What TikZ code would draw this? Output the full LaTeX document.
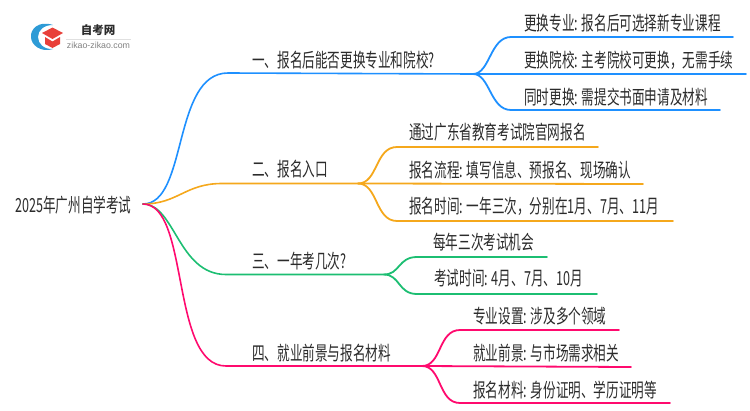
\documentclass[tikz,border=0pt]{standalone}
\usepackage{fontspec}
\usepackage{xcolor}
\setmainfont{Liberation Sans}
\newfontfamily\cjk[FakeStretch=0.65]{Noto Sans CJK SC}
\newfontfamily\cjklogo{Noto Sans CJK SC}

\definecolor{bluebr}{HTML}{1E90FF}
\definecolor{orangebr}{HTML}{F5A81C}
\definecolor{greenbr}{HTML}{1CBE72}
\definecolor{pinkbr}{HTML}{FF0A6E}
\definecolor{inktext}{HTML}{2B2B2B}
\definecolor{logored}{HTML}{E8403A}
\definecolor{logoblue}{HTML}{2E9BD6}

\tikzset{
label/.style={right, inner sep=0pt, text=inktext, font=\cjk\fontsize{19.4}{20}\selectfont},
trunk/.style={line width=1.6pt, line cap=round},
twig/.style={line width=1.8pt, line cap=round}
}

\begin{document}
\begin{tikzpicture}[x=1pt,y=-1pt]
\useasboundingbox (0,0) rectangle (750,410);

%logo
\fill[logoblue] (53,25) .. controls (38,20) and (30,30) .. (31,37) .. controls (31,45) and (41,53) .. (53,49) .. controls (44,49.5) and (38,44) .. (38,37) .. controls (38,30) and (44,25) .. (53,25) -- cycle;
\fill[logored] (52.5,27.5)--(63,33)--(52.5,39)--(42,33)--cycle;
\fill[logored] (45,37)--(52.5,41.5)--(60,37)--(60,44)--(52.5,48)--(45,44)--cycle;
\node[inner sep=0pt, text=inktext, font=\cjklogo\bfseries\fontsize{11.5}{12}\selectfont] (logoname) at (98,30.5) {自考网};
\draw[black!12, line width=0.5pt] (66,39)--(131,39);
\node[inner sep=0pt, text=gray, font=\fontsize{8.8}{9}\selectfont] (logourl) at (98.5,45) {zikao-zikao.com};

%root
\node[label] (root) at (15,205) {2025年广州自学考试};
\coordinate (hub) at (143,204);

%branch hubs
\coordinate (hubA) at (473,74);
\coordinate (hubB) at (358,183.5);
\coordinate (hubC) at (384,274.5);
\coordinate (hubD) at (422,366);

%branch labels
\node[label] (secA) at (252,60) {一、报名后能否更换专业和院校?};
\node[label] (secB) at (252,169) {二、报名入口};
\node[label] (secC) at (252,261) {三、一年考几次?};
\node[label] (secD) at (252,353) {四、就业前景与报名材料};

%leaf labels
\node[label] (leafAa) at (524,23) {更换专业: 报名后可选择新专业课程};
\node[label] (leafAb) at (524,60) {更换院校: 主考院校可更换，无需手续};
\node[label] (leafAc) at (524,97) {同时更换: 需提交书面申请及材料};

\node[label] (leafBa) at (409,132) {通过广东省教育考试院官网报名};
\node[label] (leafBb) at (409,170) {报名流程: 填写信息、预报名、现场确认};
\node[label] (leafBc) at (409,206) {报名时间: 一年三次，分别在1月、7月、11月};

\node[label] (leafCa) at (433,242) {每年三次考试机会};
\node[label] (leafCb) at (434,278) {考试时间: 4月、7月、10月};

\node[label] (leafDa) at (473,316) {专业设置: 涉及多个领域};
\node[label] (leafDb) at (473,353) {就业前景: 与市场需求相关};
\node[label] (leafDc) at (473,390) {报名材料: 身份证明、学历证明等};

%trunks
\draw[trunk, bluebr] (hub) .. controls (188,204) and (172,73) .. (228,73) -- (hubA);
\draw[trunk, orangebr] (hub) .. controls (178,204) and (185,183.5) .. (222,183.5) -- (hubB);
\draw[trunk, greenbr] (hub) .. controls (175,204) and (178,274.5) .. (226,274.5) -- (hubC);
\draw[trunk, pinkbr] (hub) .. controls (190,204) and (170,366) .. (226,366) -- (hubD);

%twigs
\draw[twig, bluebr] (hubA) .. controls (490,74) and (490,37) .. (511,37) -- (733,37);
\draw[twig, bluebr] (hubA) -- (746,74);
\draw[twig, bluebr] (hubA) .. controls (490,74) and (490,110) .. (511,110) -- (720,110);

\draw[twig, orangebr] (hubB) .. controls (378,183.5) and (375,147) .. (397,147) -- (598,147);
\draw[twig, orangebr] (hubB) -- (643,184);
\draw[twig, orangebr] (hubB) .. controls (378,183.5) and (375,221) .. (397,221) -- (673,221);

\draw[twig, greenbr] (hubC) .. controls (400,274.5) and (398,257) .. (417,257) -- (547,257);
\draw[twig, greenbr] (hubC) .. controls (400,274.5) and (398,294) .. (417,294) -- (597,294);

\draw[twig, pinkbr] (hubD) .. controls (442,366) and (438,330) .. (460,330) -- (619,330);
\draw[twig, pinkbr] (hubD) -- (631,367);
\draw[twig, pinkbr] (hubD) .. controls (442,366) and (438,403) .. (460,403) -- (670,403);

\end{tikzpicture}
\end{document}
